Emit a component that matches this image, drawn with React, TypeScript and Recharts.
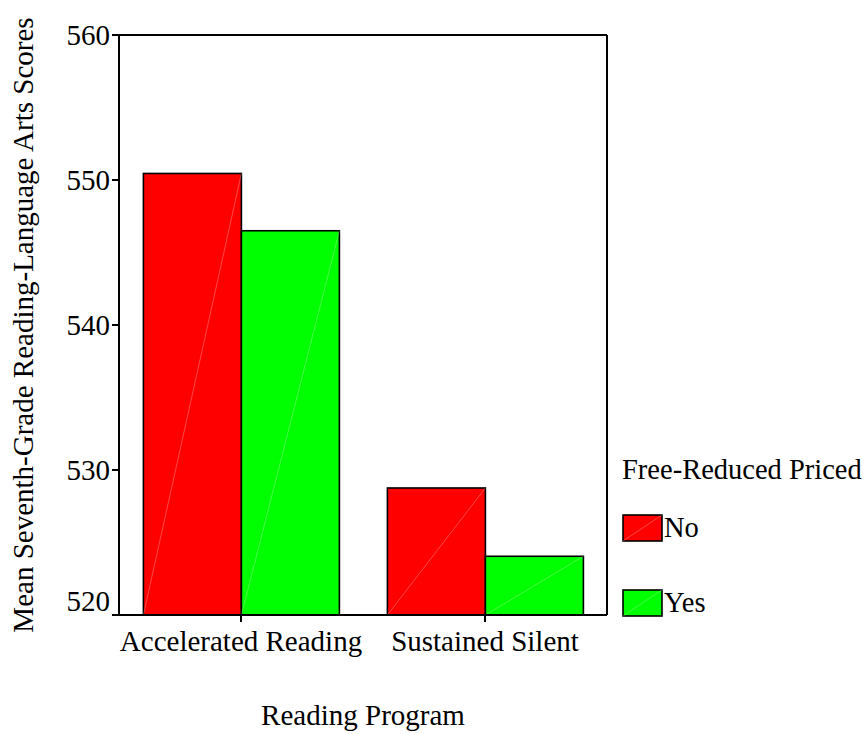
import React from 'react';
import { BarChart, Bar, XAxis, YAxis, Legend } from 'recharts';

const programs = ['Accelerated Reading', 'Sustained Silent'];
const noValues = [550.45, 528.76];
const yesValues = [546.5, 524.05];
const seriesKeys = ['No', 'Yes'];
const seriesColors = ['#ff0000', '#00ff00'];
const yTicks = [520, 530, 540, 550, 560];
const legendTitle = 'Free-Reduced Priced';
const xTitle = 'Reading Program';
const yTitle = 'Mean Seventh-Grade Reading-Language Arts Scores';

const data = programs.map((p, i) => ({ program: p, No: noValues[i], Yes: yesValues[i] }));

const FONT = '"Liberation Serif", "Times New Roman", serif';
const FS = 29;

const DiagBar = (props: any) => {
  const { x, y, width, height, fill } = props;
  if (width == null || height == null) return null;
  return (
    <g>
      <rect x={x} y={y} width={width} height={height} fill={fill} stroke="#000" strokeWidth={1.6} />
      <line x1={x} y1={y + height} x2={x + width} y2={y} stroke="rgba(255,255,255,0.35)" strokeWidth={0.8} />
    </g>
  );
};

const YTick = (props: any) => {
  const { x, y, payload } = props;
  const shift = payload.value === 520 ? -14 : 0;
  return (
    <text x={x} y={y + shift} dy="0.35em" textAnchor="end" fontFamily={FONT} fontSize={FS} fill="#000">
      {payload.value}
    </text>
  );
};

const LegendContent = (props: any) => {
  const payload = (props.payload || []) as any[];
  return (
    <div style={{ position: 'relative', fontFamily: FONT, fontSize: 28.5, color: '#000', height: 180 }}>
      <div style={{ position: 'absolute', left: 0, top: 0, lineHeight: '32px', whiteSpace: 'nowrap' }}>{legendTitle}</div>
      {payload.map((p: any, i: number) => (
        <div key={i} style={{ position: 'absolute', left: 0, top: 60 + i * 75, display: 'flex', alignItems: 'center', height: 27 }}>
          <svg width={41} height={28} style={{ display: 'block' }}>
            <rect x={1} y={1} width={39} height={26} fill={p.color} stroke="#000" strokeWidth={1.6} />
            <line x1={1} y1={27} x2={40} y2={1} stroke="rgba(255,255,255,0.35)" strokeWidth={0.8} />
          </svg>
          <span style={{ marginLeft: 1, lineHeight: '27px' }}>{p.value}</span>
        </div>
      ))}
    </div>
  );
};

export default function App() {
  return (
    <div style={{ position: 'absolute', left: 0, top: 0, width: 866, height: 734, overflow: 'hidden' }}>
      <BarChart
        width={866}
        height={734}
        data={data}
        margin={{ top: 34, right: 258, bottom: 59, left: 0 }}
        barCategoryGap="10%"
        barGap={0}
      >
        <XAxis
          dataKey="program"
          height={60}
          axisLine={{ stroke: '#000', strokeWidth: 2 }}
          tickLine={{ stroke: '#000', strokeWidth: 2 }}
          tickSize={7}
          tickMargin={8}
          tick={{ fill: '#000', fontFamily: FONT, fontSize: FS }}
          interval={0}
          label={{ value: xTitle, position: 'center', dy: 70, fill: '#000', fontFamily: FONT, fontSize: FS }}
        />
        <XAxis xAxisId="top" orientation="top" dataKey="program" height={1} tick={false} tickLine={false} axisLine={{ stroke: '#000', strokeWidth: 2 }} />
        <YAxis
          width={119}
          domain={[520, 560]}
          ticks={yTicks}
          allowDataOverflow
          axisLine={{ stroke: '#000', strokeWidth: 2 }}
          tickLine={{ stroke: '#000', strokeWidth: 2 }}
          tickSize={7}
          tickMargin={2}
          tick={<YTick />}
          label={{ value: yTitle, angle: -90, position: 'center', dx: -37, fill: '#000', fontFamily: FONT, fontSize: FS }}
        />
        <YAxis yAxisId="right" orientation="right" width={1} domain={[520, 560]} tick={false} tickLine={false} axisLine={{ stroke: '#000', strokeWidth: 2 }} />
        <Legend
          layout="vertical"
          align="center"
          verticalAlign="middle"
          content={<LegendContent />}
          wrapperStyle={{ position: 'absolute', left: 622, top: 454, width: 244 }}
        />
        {seriesKeys.map((k, i) => (
          <Bar key={k} dataKey={k} name={k} fill={seriesColors[i]} isAnimationActive={false} shape={<DiagBar />} />
        ))}
      </BarChart>
    </div>
  );
}
